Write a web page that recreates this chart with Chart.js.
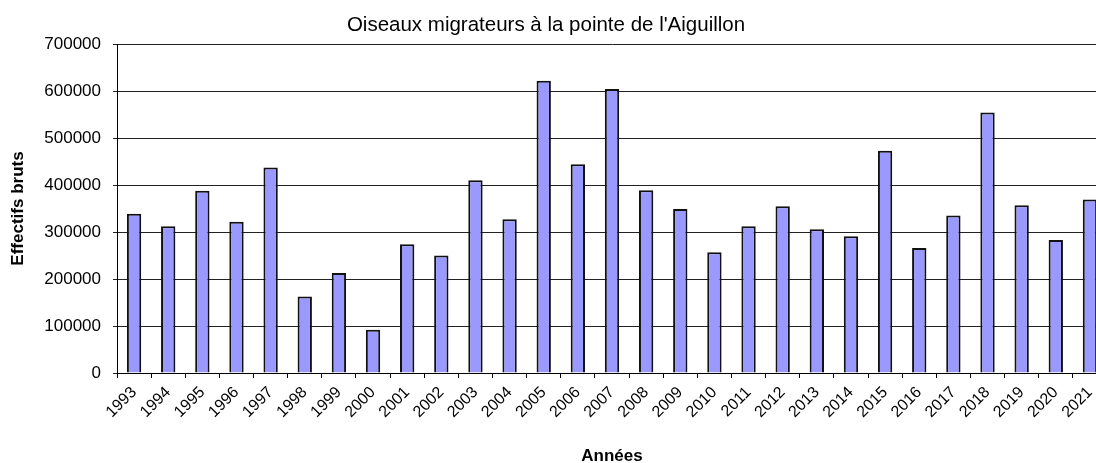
<!DOCTYPE html>
<html>
<head>
<meta charset="utf-8">
<script src="https://cdn.jsdelivr.net/npm/chart.js@4.4.0/dist/chart.umd.min.js"></script>
<style>
  html, body { margin: 0; padding: 0; overflow: hidden; background: #fff; }
  canvas { display: block; }
</style>
</head>
<body>
<canvas id="migrChart" width="1112" height="463"></canvas>
<script>
const years = ['1993', '1994', '1995', '1996', '1997', '1998', '1999', '2000', '2001', '2002',
               '2003', '2004', '2005', '2006', '2007', '2008', '2009', '2010', '2011', '2012',
               '2013', '2014', '2015', '2016', '2017', '2018', '2019', '2020', '2021'];
const counts = [339000, 312000, 388000, 322000, 437000, 163000, 213000, 92000, 274000, 250000,
                410000, 327000, 622000, 444000, 604000, 389000, 349000, 257000, 312000, 355000,
                306000, 291000, 473000, 266000, 335000, 554000, 357000, 283000, 369000];
const yTicks = [0, 100000, 200000, 300000, 400000, 500000, 600000, 700000];
const chartTitle = "Oiseaux migrateurs à la pointe de l'Aiguillon";

Chart.defaults.font.family = '"Liberation Sans", Arial, sans-serif';
Chart.defaults.color = '#000';

// title sits over the whole picture, not over the plot
const titlePlugin = {
    id: 'pageTitle',
    afterDraw(chart) {
        const ctx = chart.ctx;
        ctx.save();
        ctx.font = '20.5px "Liberation Sans", Arial, sans-serif';
        ctx.fillStyle = '#000';
        ctx.textAlign = 'center';
        ctx.textBaseline = 'alphabetic';
        ctx.fillText(chartTitle, 546, 31);
        ctx.restore();
    }
};

const ctx = document.getElementById('migrChart').getContext('2d');
new Chart(ctx, {
    type: 'bar',
    data: {
        labels: years,
        datasets: [{
            label: 'Effectifs bruts',
            data: counts,
            backgroundColor: '#9999ff',
            borderColor: '#111',
            borderWidth: 2,
            barPercentage: 0.42,
            categoryPercentage: 1
        }]
    },
    options: {
        responsive: false,
        animation: false,
        devicePixelRatio: 1,
        layout: { padding: { top: 44, right: 5, left: 0, bottom: 0 } },
        plugins: {
            legend: { display: false },
            tooltip: { enabled: false }
        },
        scales: {
            x: {
                afterFit: s => { s.height = 90; },
                grid: { drawOnChartArea: false, drawTicks: true, tickLength: 5, color: '#000' },
                border: { color: '#000', width: 1 },
                ticks: { minRotation: 45, maxRotation: 45, autoSkip: false, padding: 5,
                         font: { size: 16 }, color: '#000' },
                title: { display: true, text: 'Années', font: { size: 17, weight: 'bold' },
                         padding: { top: 0, bottom: -4 } }
            },
            y: {
                min: 0,
                max: 700000,
                afterFit: s => { s.width = 117; },
                afterBuildTicks: s => { s.ticks = yTicks.map(v => ({ value: v })); },
                grid: { color: '#222', lineWidth: 1, tickLength: 4 },
                border: { color: '#000', width: 1 },
                ticks: { padding: 12, font: { size: 17 }, color: '#000',
                         callback: v => String(v) },
                title: { display: true, text: 'Effectifs bruts', font: { size: 17, weight: 'bold' },
                         padding: { top: 8, bottom: 0 } }
            }
        }
    },
    plugins: [titlePlugin]
});
</script>
</body>
</html>
